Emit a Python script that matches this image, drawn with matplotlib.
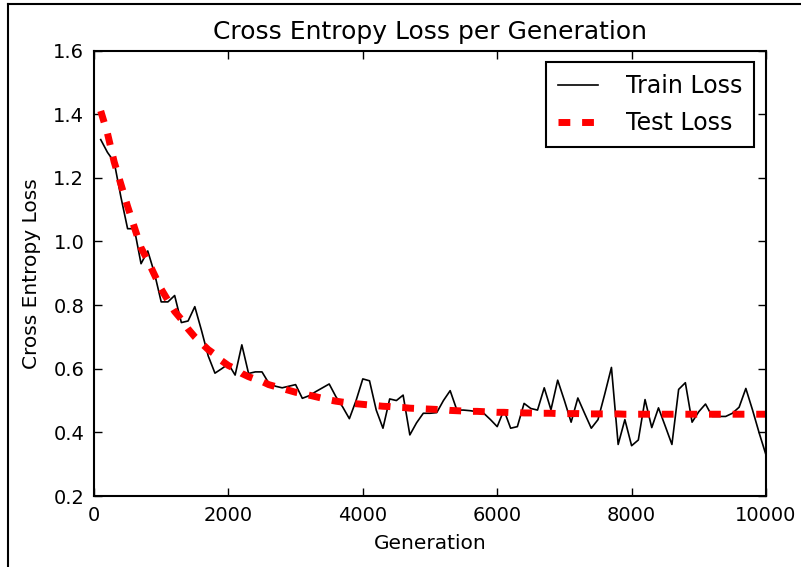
import matplotlib
matplotlib.use('Agg')
import matplotlib.pyplot as plt
from matplotlib.lines import Line2D

# loss values logged every 100 generations
generations = list(range(100, 10001, 100))

train_loss = [1.32, 1.28, 1.25, 1.14, 1.04, 1.04, 0.93, 0.97, 0.90, 0.81,
              0.81, 0.83, 0.745, 0.75, 0.795, 0.72, 0.64, 0.586, 0.60, 0.615,
              0.58, 0.675, 0.585, 0.59, 0.59, 0.555, 0.545, 0.54, 0.545, 0.55,
              0.507, 0.515, 0.528, 0.54, 0.552, 0.512, 0.48, 0.443, 0.50, 0.568,
              0.562, 0.47, 0.413, 0.505, 0.50, 0.517, 0.392, 0.43, 0.46, 0.46,
              0.462, 0.50, 0.531, 0.47, 0.47, 0.468, 0.465, 0.46, 0.44, 0.418,
              0.47, 0.413, 0.418, 0.491, 0.475, 0.47, 0.54, 0.471, 0.564, 0.50,
              0.432, 0.508, 0.46, 0.413, 0.44, 0.52, 0.604, 0.362, 0.44, 0.358,
              0.376, 0.503, 0.415, 0.477, 0.42, 0.362, 0.535, 0.556, 0.432, 0.465,
              0.489, 0.45, 0.45, 0.45, 0.46, 0.479, 0.538, 0.47, 0.397, 0.329]

test_loss = [1.41, 1.34, 1.25, 1.18, 1.11, 1.045, 0.98, 0.94, 0.895, 0.85,
             0.815, 0.78, 0.755, 0.725, 0.70, 0.68, 0.66, 0.645, 0.625, 0.61,
             0.60, 0.585, 0.575, 0.567, 0.56, 0.55, 0.544, 0.538, 0.532, 0.526,
             0.522, 0.517, 0.512, 0.507, 0.502, 0.498, 0.495, 0.492, 0.49, 0.488,
             0.486, 0.484, 0.482, 0.481, 0.479, 0.478, 0.476, 0.475, 0.474, 0.473,
             0.472, 0.471, 0.469, 0.468, 0.467, 0.466, 0.466, 0.465, 0.464, 0.463,
             0.463, 0.462, 0.462, 0.461, 0.461, 0.460, 0.460, 0.460, 0.459, 0.459,
             0.459, 0.459, 0.458, 0.458, 0.458, 0.458, 0.458, 0.458, 0.457, 0.457,
             0.457, 0.457, 0.457, 0.457, 0.457, 0.457, 0.457, 0.457, 0.457, 0.457,
             0.457, 0.457, 0.457, 0.457, 0.457, 0.457, 0.457, 0.457, 0.457, 0.457]

xticks = [0, 2000, 4000, 6000, 8000, 10000]
yticks = [0.2, 0.4, 0.6, 0.8, 1.0, 1.2, 1.4, 1.6]

plt.rcParams['font.family'] = 'DejaVu Sans'
plt.rcParams['lines.scale_dashes'] = False

W, H = 801, 567
fig = plt.figure(figsize=(W / 100, H / 100), dpi=100, facecolor='white')
ax = fig.add_axes([94 / W, (H - 496) / H, (766 - 94) / W, (496 - 50.5) / H])

ax.plot(generations, train_loss, color='k', lw=1.2, label='Train Loss')
ax.plot(generations, test_loss, color='r', lw=5, dashes=(8.5, 8.5),
        solid_capstyle='butt', label='Test Loss')

ax.set_xlim(0, 10000)
ax.set_ylim(0.2, 1.6)
ax.set_xticks(xticks)
ax.set_yticks(yticks)
ax.tick_params(direction='in', length=6, width=1, top=True, right=True,
               labelsize=14, pad=7)
for s in ax.spines.values():
    s.set_linewidth(1.5)

ax.set_title('Cross Entropy Loss per Generation', fontsize=18, pad=8)
ax.set_xlabel('Generation', fontsize=14.5, labelpad=7)
ax.set_ylabel('Cross Entropy Loss', fontsize=14.5, labelpad=9)

leg = ax.legend(loc='upper right', fontsize=17, fancybox=False,
                edgecolor='k', framealpha=1, handlelength=1.7,
                handletextpad=1.2, borderpad=0.5, labelspacing=0.55,
                borderaxespad=0.5)
leg.get_frame().set_linewidth(1.5)

# scanned frame edges on the left and top of the picture
fig.add_artist(Line2D([7.5 / W, 7.5 / W], [0, 1 - 3.5 / H],
                      transform=fig.transFigure, color='k', lw=1.5))
fig.add_artist(Line2D([7.5 / W, 1], [1 - 3.5 / H, 1 - 3.5 / H],
                      transform=fig.transFigure, color='k', lw=1.5))

fig.savefig('out.png', dpi=100, facecolor='white')
